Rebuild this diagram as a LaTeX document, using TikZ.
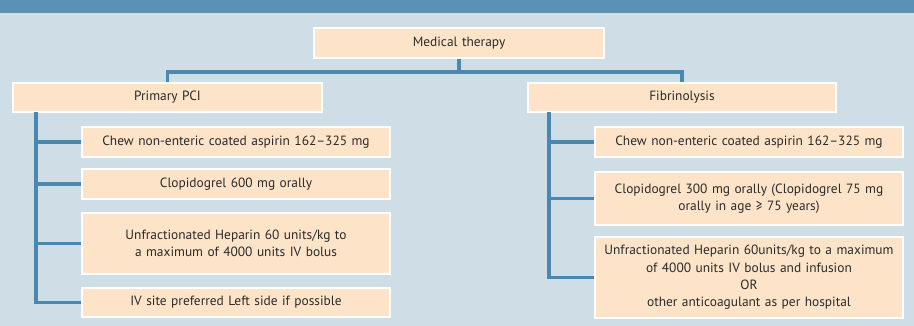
\documentclass[tikz,border=0pt]{standalone}
\usepackage{fontspec}
\setmainfont{PT Sans}
\usepackage{xcolor}
\usetikzlibrary{positioning, calc, shadows}
\definecolor{bandblue}{HTML}{5A92B6}
\definecolor{bgblue}{HTML}{CFDDE6}
\definecolor{linkblue}{HTML}{4A88B0}
\definecolor{peach}{HTML}{FDE4C9}
\definecolor{txtgrey}{HTML}{2A2A2A}

\begin{document}
\begin{tikzpicture}[x=1pt,y=-1pt,
    box/.style={draw=white, line width=1.2pt, fill=peach, text=txtgrey,
      font=\fontsize{13.4}{17.3}\selectfont, align=center, inner xsep=0pt, inner ysep=0pt,
      drop shadow={shadow xshift=1pt, shadow yshift=-1.2pt, opacity=0.25}},
    link/.style={linkblue, line width=3.5pt}]
    \useasboundingbox (0,0) rectangle (914,326);
    \fill[bgblue] (0,0) rectangle (914,326);
    \fill[bandblue] (0,0) rectangle (914,13);
    \node[box, text width=290pt, minimum height=30pt] (med) at (459,43) {Medical therapy};
    \node[box, text width=309pt, minimum height=29pt] (pci) at (167.5,97.5) {Primary PCI};
    \node[box, text width=308pt, minimum height=29pt] (fib) at (682,97.5) {Fibrinolysis};
    \node[box, text width=308pt, minimum height=30pt] (pci1) at (236,142) {Chew non-enteric coated aspirin 162--325 mg};
    \node[box, text width=308pt, minimum height=30pt] (pci2) at (236,184) {Clopidogrel 600 mg orally};
    \node[box, text width=308pt, minimum height=61pt] (pci3) at (236,243.5) {Unfractionated Heparin 60 units/kg to\\a maximum of 4000 units IV bolus};
    \node[box, text width=308pt, minimum height=29pt] (pci4) at (236,302.5) {IV site preferred Left side if possible};
    \node[box, text width=308pt, minimum height=30pt] (fib1) at (749,142) {Chew non-enteric coated aspirin 162--325 mg};
    \node[box, text width=308pt, minimum height=53pt] (fib2) at (749,198.5) {Clopidogrel 300 mg orally (Clopidogrel 75 mg\\orally in age ≥ 75 years)};
    \node[box, text width=308pt, minimum height=81pt] (fib3) at (749,277.5) {Unfractionated Heparin 60units/kg to a maximum\\of 4000 units IV bolus and infusion\\OR\\other anticoagulant as per hospital};
    \coordinate (hub) at (459,72);
    \coordinate (pcitrunk) at (36,112);
    \coordinate (fibtrunk) at (549,112);
    \draw[link] (med.south) -- (hub);
    \draw[link] (pci.north) |- (hub) -| (fib.north);
    \draw[link] (pcitrunk) |- (pci4.west);
    \draw[link] (pcitrunk |- pci1.west) -- (pci1.west);
    \draw[link] (pcitrunk |- pci2.west) -- (pci2.west);
    \draw[link] (pcitrunk |- pci3.west) -- (pci3.west);
    \draw[link] (fibtrunk) |- (fib3.west);
    \draw[link] (fibtrunk |- fib1.west) -- (fib1.west);
    \draw[link] (fibtrunk |- fib2.west) -- (fib2.west);
  \end{tikzpicture}
\end{document}
